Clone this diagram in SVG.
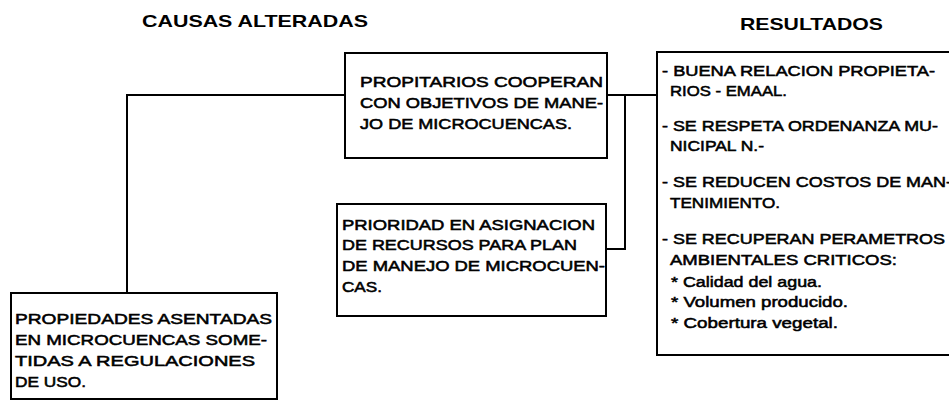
<svg xmlns="http://www.w3.org/2000/svg" width="949" height="401" viewBox="0 0 949 401">
<style>
.bg{fill:#fff}
.box{fill:#fff;stroke:#000;stroke-width:2}
.conn{fill:none;stroke:#000;stroke-width:2}
.t{font-family:"Liberation Sans",Arial,sans-serif;font-size:15.5px;fill:#000;stroke:#000;stroke-width:0.55}
.h{font-family:"Liberation Sans",Arial,sans-serif;font-size:17px;font-weight:bold;fill:#000}
</style>
<rect class="bg" x="0" y="0" width="949" height="401"/>
<g id="headers">
<text class="h" x="142" y="27" textLength="226" lengthAdjust="spacingAndGlyphs">CAUSAS ALTERADAS</text>
<text class="h" x="740" y="30" textLength="143" lengthAdjust="spacingAndGlyphs">RESULTADOS</text>
</g>
<g id="connectors">
<polyline class="conn" points="345,95 127,95 127,293"/>
<line class="conn" x1="607" y1="95" x2="657" y2="95"/>
<polyline class="conn" points="625,95 625,249 606,249"/>
</g>
<g id="node-propietarios">
<rect class="box" x="345" y="53" width="262" height="105"/>
<text class="t" x="360" y="87" textLength="243" lengthAdjust="spacingAndGlyphs">PROPITARIOS COOPERAN</text>
<text class="t" x="360" y="108" textLength="243" lengthAdjust="spacingAndGlyphs">CON OBJETIVOS DE MANE-</text>
<text class="t" x="360" y="129" textLength="212" lengthAdjust="spacingAndGlyphs">JO DE MICROCUENCAS.</text>
</g>
<g id="node-prioridad">
<rect class="box" x="337" y="204" width="269" height="112"/>
<text class="t" x="342" y="230" textLength="253" lengthAdjust="spacingAndGlyphs">PRIORIDAD EN ASIGNACION</text>
<text class="t" x="342" y="250" textLength="235" lengthAdjust="spacingAndGlyphs">DE RECURSOS PARA PLAN</text>
<text class="t" x="342" y="271" textLength="263" lengthAdjust="spacingAndGlyphs">DE MANEJO DE MICROCUEN-</text>
<text class="t" x="342" y="292" textLength="40" lengthAdjust="spacingAndGlyphs">CAS.</text>
</g>
<g id="node-propiedades">
<rect class="box" x="11" y="293" width="266" height="106"/>
<text class="t" x="15" y="324" textLength="257" lengthAdjust="spacingAndGlyphs">PROPIEDADES ASENTADAS</text>
<text class="t" x="15" y="345" textLength="252" lengthAdjust="spacingAndGlyphs">EN MICROCUENCAS SOME-</text>
<text class="t" x="15" y="366" textLength="240" lengthAdjust="spacingAndGlyphs">TIDAS A REGULACIONES</text>
<text class="t" x="15" y="387" textLength="71" lengthAdjust="spacingAndGlyphs">DE USO.</text>
</g>
<g id="node-resultados">
<rect class="box" x="657" y="52" width="300" height="303"/>
<text class="t" x="662" y="76" textLength="273" lengthAdjust="spacingAndGlyphs">- BUENA RELACION PROPIETA-</text>
<text class="t" x="670" y="96" textLength="117" lengthAdjust="spacingAndGlyphs">RIOS - EMAAL.</text>
<text class="t" x="662" y="131" textLength="276" lengthAdjust="spacingAndGlyphs">- SE RESPETA ORDENANZA MU-</text>
<text class="t" x="670" y="151" textLength="94" lengthAdjust="spacingAndGlyphs">NICIPAL N.-</text>
<text class="t" x="662" y="187" textLength="290" lengthAdjust="spacingAndGlyphs">- SE REDUCEN COSTOS DE MAN-</text>
<text class="t" x="670" y="208" textLength="110" lengthAdjust="spacingAndGlyphs">TENIMIENTO.</text>
<text class="t" x="662" y="244" textLength="283" lengthAdjust="spacingAndGlyphs">- SE RECUPERAN PERAMETROS</text>
<text class="t" x="670" y="265" textLength="227" lengthAdjust="spacingAndGlyphs">AMBIENTALES CRITICOS:</text>
<text class="t" x="671" y="287" textLength="151" lengthAdjust="spacingAndGlyphs">* Calidad del agua.</text>
<text class="t" x="671" y="307" textLength="177" lengthAdjust="spacingAndGlyphs">* Volumen producido.</text>
<text class="t" x="671" y="328" textLength="167" lengthAdjust="spacingAndGlyphs">* Cobertura vegetal.</text>
</g>
</svg>
